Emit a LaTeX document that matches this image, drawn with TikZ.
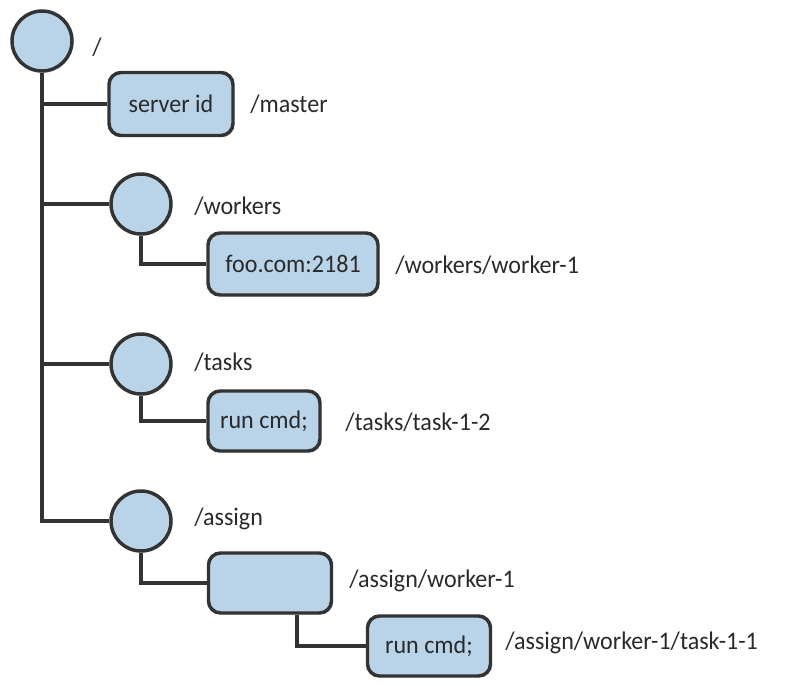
\documentclass[tikz,border=0pt]{standalone}
\usepackage{fontspec}
\setmainfont{Carlito}[FakeStretch=0.95]
\usetikzlibrary{shadows}
\definecolor{nodeblue}{HTML}{B9D4E9}
\definecolor{edgegray}{HTML}{333333}
\definecolor{textgray}{HTML}{2A2A2A}
\begin{document}
\begin{tikzpicture}[x=0.75pt,y=-0.75pt,
  znode/.style={circle,draw=edgegray,fill=nodeblue,line width=2.6pt,minimum size=60*0.75pt,inner sep=0pt,
    drop shadow={opacity=0.25,shadow xshift=1.2pt,shadow yshift=-1.2pt}},
  zbox/.style={rounded corners=9pt,draw=edgegray,fill=nodeblue,line width=2.6pt,inner sep=0pt,
    font=\fontsize{19}{22}\selectfont,text=textgray,
    drop shadow={opacity=0.25,shadow xshift=1.2pt,shadow yshift=-1.2pt}},
  zlabel/.style={anchor=west,inner sep=0pt,font=\fontsize{19}{22}\selectfont,text=textgray},
  conn/.style={draw=edgegray,line width=2.5pt}]
\useasboundingbox (0,0) rectangle (794,686);
% connectors (drawn first, nodes on top)
\coordinate (trunktop) at (42,41);
\coordinate (trunkend) at (42,521);
\coordinate (b1) at (42,104);
\coordinate (b2) at (42,204);
\coordinate (b3) at (42,364);
\coordinate (b4) at (297,583);
% nodes
\node[znode] (root) at (42,41) {};
\node[zlabel] (rootl) at (92,47) {/};
\node[zbox,minimum width=124*0.75pt,minimum height=63*0.75pt] (srv) at (171,104) {server id};
\node[zlabel] (srvl) at (250,104) {/master};
\node[znode] (wrk) at (141,204) {};
\node[zlabel] (wrkl) at (194,206) {/workers};
\node[zbox,minimum width=170*0.75pt,minimum height=62*0.75pt] (foo) at (293,264) {foo.com:2181};
\node[zlabel] (fool) at (395,265) {/workers/worker-1};
\node[znode] (tsk) at (141,364) {};
\node[zlabel] (tskl) at (194,362) {/tasks};
\node[zbox,minimum width=112*0.75pt,minimum height=60*0.75pt] (run1) at (264,421) {run cmd;};
\node[zlabel] (run1l) at (345,422) {/tasks/task-1-2};
\node[znode] (asg) at (141,521) {};
\node[zlabel] (asgl) at (194,519) {/assign};
\node[zbox,minimum width=123*0.75pt,minimum height=60*0.75pt] (emp) at (270,583) {};
\node[zlabel] (empl) at (349,581) {/assign/worker-1};
\node[zbox,minimum width=123*0.75pt,minimum height=60*0.75pt] (run2) at (429,646) {run cmd;};
\node[zlabel] (run2l) at (505,643) {/assign/worker-1/task-1-1};
% connectors
\draw[conn] (root.south) -- (trunkend) -- (asg.west);
\draw[conn] (b1) -- (srv.west);
\draw[conn] (b2) -- (wrk.west);
\draw[conn] (b3) -- (tsk.west);
\draw[conn] (wrk.south) |- (foo.west);
\draw[conn] (tsk.south) |- (run1.west);
\draw[conn] (asg.south) |- (emp.west);
\draw[conn] (emp.south -| b4) |- (run2.west);
\end{tikzpicture}
\end{document}
